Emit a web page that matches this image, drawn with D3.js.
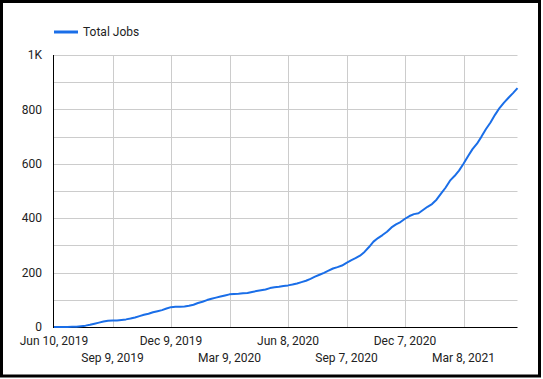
<!DOCTYPE html>
<html>
<head>
<meta charset="utf-8">
<script src="https://cdn.jsdelivr.net/npm/d3@7"></script>
<style>
  html, body { margin: 0; padding: 0; background: #fff; }
  svg { display: block; font-family: Roboto, "Noto Sans", sans-serif; }
</style>
</head>
<body>
<svg id="chart" width="543" height="379"></svg>
<script>
// ---- data ----
const seriesName = "Total Jobs";
const startDate = "2019-06-10";           // first weekly point
const totalJobs = [
  0, 0, 0, 0, 1, 1, 3, 5, 8, 12,
  16, 20, 23, 24, 24, 26, 28, 31, 35, 40,
  45, 49, 54, 58, 62, 68, 73, 74, 74, 75,
  78, 82, 88, 93, 99, 104, 108, 112, 116, 120,
  121, 122, 124, 125, 129, 132, 135, 138, 143, 146,
  148, 151, 153, 156, 160, 165, 170, 177, 185, 192,
  199, 207, 215, 220, 226, 236, 245, 253, 262, 276,
  294, 314, 327, 338, 350, 366, 377, 386, 398, 408,
  415, 418, 430, 442, 452, 468, 490, 512, 538, 555,
  575, 600, 628, 654, 674, 700, 728, 752, 780, 805,
  825, 843, 860, 878
];
const xTickDates = ["2019-06-10", "2019-09-09", "2019-12-09", "2020-03-09",
                    "2020-06-08", "2020-09-07", "2020-12-07", "2021-03-08"];
const yGridValues = [0, 100, 200, 300, 400, 500, 600, 700, 800, 900, 1000];
const yLabelValues = [0, 200, 400, 600, 800, 1000];

// ---- build ----
const parse = d3.utcParse("%Y-%m-%d");
const t0 = parse(startDate);
const data = totalJobs.map((v, i) => ({ date: d3.utcDay.offset(t0, i * 7), value: v }));
const ticks = xTickDates.map(parse);

const svg = d3.select("#chart");
const margin = { left: 54, right: 25.5, top: 55, bottom: 52 };
const W = 543, H = 379;

const x = d3.scaleUtc()
  .domain(d3.extent(data, d => d.date))
  .range([margin.left, W - margin.right]);
const y = d3.scaleLinear()
  .domain([0, 1000])
  .range([H - margin.bottom, margin.top]);

// outer border
svg.append("rect")
  .attr("x", 1.5).attr("y", 1.5)
  .attr("width", 538).attr("height", 374.5)
  .attr("fill", "none").attr("stroke", "#000").attr("stroke-width", 3);

// horizontal gridlines
svg.append("g").selectAll("line").data(yGridValues.filter(v => v > 0)).join("line")
  .attr("x1", x.range()[0]).attr("x2", x.range()[1])
  .attr("y1", d => Math.round(y(d)) + 0.5).attr("y2", d => Math.round(y(d)) + 0.5)
  .attr("stroke", "#cccccc").attr("stroke-width", 1);

// vertical gridlines
svg.append("g").selectAll("line").data(ticks.slice(1)).join("line")
  .attr("x1", d => Math.round(x(d)) + 0.5).attr("x2", d => Math.round(x(d)) + 0.5)
  .attr("y1", y.range()[1]).attr("y2", y.range()[0])
  .attr("stroke", "#cccccc").attr("stroke-width", 1);

// y labels
const fmtY = v => v >= 1000 ? (v / 1000) + "K" : String(v);
svg.append("g").selectAll("text").data(yLabelValues).join("text")
  .attr("x", 42).attr("y", d => y(d))
  .attr("dy", "0.35em")
  .attr("text-anchor", "end")
  .attr("font-size", 12).attr("fill", "#222")
  .text(fmtY);

// x labels (staggered rows)
const fmtX = d3.utcFormat("%b %-d, %Y");
svg.append("g").selectAll("text").data(ticks).join("text")
  .attr("x", d => x(d))
  .attr("y", (d, i) => i % 2 === 0 ? 341 : 357.5)
  .attr("dy", "0.35em")
  .attr("text-anchor", "middle")
  .attr("font-size", 12).attr("fill", "#222")
  .text(fmtX);

// axes lines
svg.append("line")
  .attr("x1", margin.left - 0.5).attr("x2", margin.left - 0.5)
  .attr("y1", y.range()[1]).attr("y2", y.range()[0])
  .attr("stroke", "#000").attr("stroke-width", 1);
svg.append("line")
  .attr("x1", margin.left - 1).attr("x2", x.range()[1])
  .attr("y1", Math.round(y(0)) + 0.5).attr("y2", Math.round(y(0)) + 0.5)
  .attr("stroke", "#000").attr("stroke-width", 1);

// series line
const line = d3.line().x(d => x(d.date)).y(d => y(d.value));
svg.append("path")
  .datum(data)
  .attr("d", line)
  .attr("fill", "none")
  .attr("stroke", "#1a6ee8")
  .attr("stroke-width", 2)
  .attr("stroke-linejoin", "round");

// legend
svg.append("line")
  .attr("x1", 54).attr("x2", 78).attr("y1", 32).attr("y2", 32)
  .attr("stroke", "#1a6ee8").attr("stroke-width", 3);
svg.append("text")
  .attr("x", 83).attr("y", 32).attr("dy", "0.35em")
  .attr("font-size", 12).attr("fill", "#222")
  .text(seriesName);
</script>
</body>
</html>
